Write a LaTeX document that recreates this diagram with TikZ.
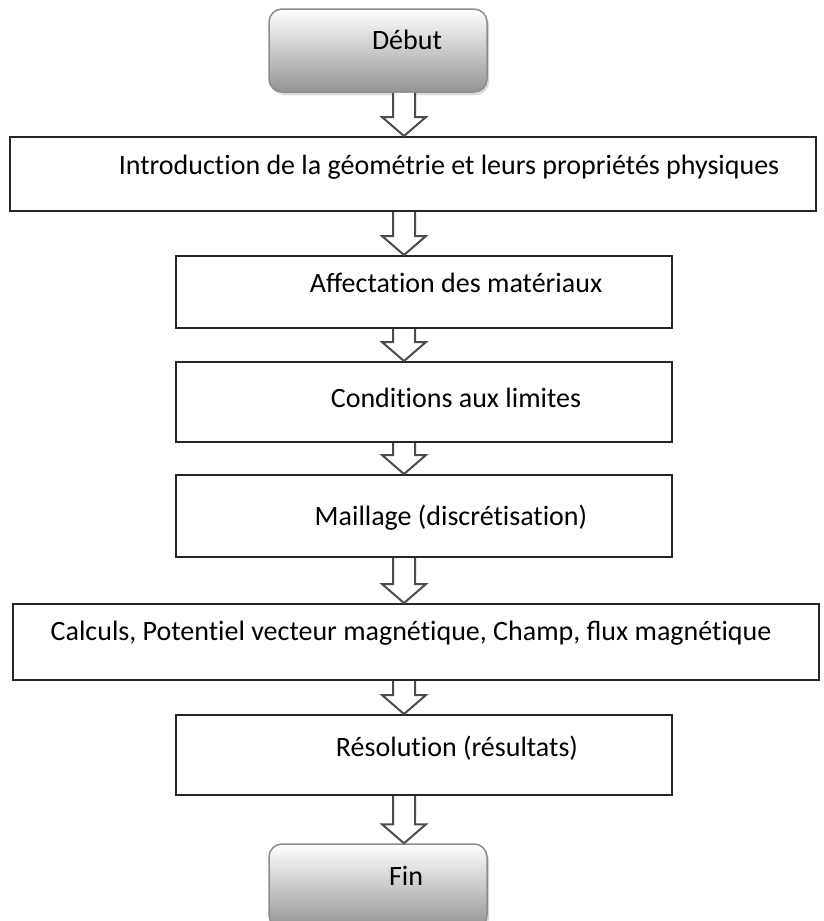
\documentclass[tikz,border=0pt]{standalone}
\usepackage{fontspec}
\setmainfont{Carlito}
\usetikzlibrary{calc,shadows}

% t et i sans ligature
\newXeTeXintercharclass\clasT
\newXeTeXintercharclass\clasI
\XeTeXcharclass`t=\clasT
\XeTeXcharclass`i=\clasI
\XeTeXinterchartoks\clasT\clasI={\kern0pt }

\tikzset{
  caja/.style={draw=black!85,line width=2pt,fill=white,inner sep=0pt},
  terminal/.style={draw=black!45,line width=1.5pt,rounded corners=13pt,
    top color=white,bottom color=black!42,inner sep=0pt,
    drop shadow={opacity=0.3,shadow xshift=2pt,shadow yshift=-3pt}},
  texto/.style={anchor=base,inner sep=0pt,font=\fontsize{28}{32}\selectfont},
  hueca/.style={draw=black!70,line width=2pt,fill=white,line join=miter}
}

% flecha hueca entre dos cajas
\newcommand{\flecha}[2]{%
  \draw[hueca] ($(#1.south -| ax)+(-11,0)$) -- ($(#2.north -| ax)+(-11,-19)$)
    -- ++(-11,0) -- (#2.north -| ax) -- ++(22,-19) -- ++(-11,0)
    -- ($(#1.south -| ax)+(11,0)$);}

\begin{document}
\XeTeXinterchartokenstate=1
\begin{tikzpicture}[x=1pt,y=-1pt]
  \useasboundingbox (0,0) rectangle (824,921);
  \clip (0,0) rectangle (824,921);
  \coordinate (ax) at (404,0);

  % Cajas
  \node[terminal,minimum width=218,minimum height=83] (deb) at (378,50.5) {};
  \node[caja,minimum width=806,minimum height=74] (geo) at (413,174) {};
  \node[caja,minimum width=496,minimum height=72] (mat) at (424,292) {};
  \node[caja,minimum width=496,minimum height=80] (lim) at (424,402) {};
  \node[caja,minimum width=496,minimum height=82] (mai) at (424,516) {};
  \node[caja,minimum width=806,minimum height=76] (cal) at (416,642) {};
  \node[caja,minimum width=496,minimum height=80] (res) at (424,755) {};
  \node[terminal,minimum width=218,minimum height=84] (fin) at (378,886) {};

  % Textos
  \node[texto] (deb-t) at (407,49) {Début};
  \node[texto] (geo-t) at (449,174) {Introduction de la géométrie et leurs propriétés physiques};
  \node[texto] (mat-t) at (456,292) {Affectation des matériaux};
  \node[texto] (lim-t) at (456,407) {Conditions aux limites};
  \node[texto] (mai-t) at (451,525) {Maillage (discrétisation)};
  \node[texto] (cal-t) at (411,640) {Calculs, Potentiel vecteur magnétique, Champ, flux magnétique};
  \node[texto] (res-t) at (457,756) {Résolution (résultats)};
  \node[texto] (fin-t) at (406,885) {Fin};

  % Flechas
  \flecha{deb}{geo}
  \flecha{geo}{mat}
  \flecha{mat}{lim}
  \flecha{lim}{mai}
  \flecha{mai}{cal}
  \flecha{cal}{res}
  \flecha{res}{fin}
\end{tikzpicture}
\end{document}
